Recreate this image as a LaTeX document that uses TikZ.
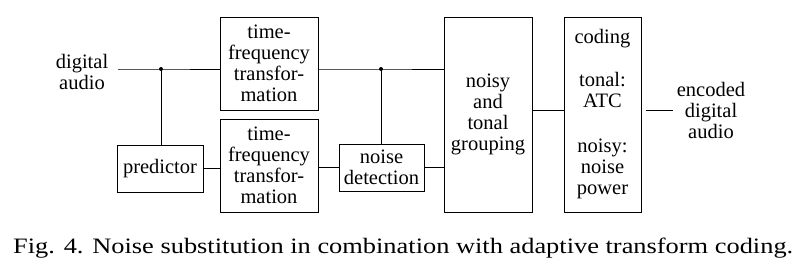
\documentclass[tikz,border=0pt]{standalone}
\usepackage{fontspec}
\setmainfont{Liberation Serif}
\usepackage{graphicx}
\begin{document}
\begin{tikzpicture}[x=1pt,y=-1pt,
  box/.style={draw,line width=1pt,inner sep=0pt,align=center,font=\fontsize{20.5}{21}\selectfont},
  lbl/.style={inner sep=0pt,align=center,font=\fontsize{20.5}{21}\selectfont},
  wire/.style={line width=0.9pt},
  jdot/.style={circle,fill,inner sep=0pt,minimum size=4pt}]
\useasboundingbox (0,0) rectangle (799,274);
% nodes
\node[lbl] (din) at (82,72) {digital\\audio};
\node[box,minimum width=98,minimum height=93] (tf1) at (269,63.5) {time-\\frequency\\transfor-\\mation};
\node[box,minimum width=98,minimum height=93] (tf2) at (269,165.5) {time-\\frequency\\transfor-\\mation};
\node[box,minimum width=86,minimum height=47] (pred) at (160,168.5) {predictor};
\node[box,minimum width=85,minimum height=47] (nd) at (381.5,167.5) {noise\\detection};
\node[box,minimum width=88,minimum height=195] (grp) at (488,114.5) {noisy\\and\\tonal\\grouping};
\node[box,minimum width=77,minimum height=195] (cod) at (602.5,114.5) {coding\\[22pt]tonal:\\ATC\\[24pt]noisy:\\noise\\power};
\node[lbl] (out) at (711,110) {encoded\\digital\\audio};
\node[anchor=base west,inner sep=0pt] (cap) at (13,253) {\resizebox{780pt}{\height}{\fontsize{22}{26}\selectfont Fig. 4. Noise substitution in combination with adaptive transform coding.}};
% junctions
\coordinate (j1) at (161,69);
\coordinate (j2) at (381,69);
\node[jdot] (d1) at (j1) {};
\node[jdot] (d2) at (j2) {};
% connectors
\draw[wire] ([xshift=10pt]din.east |- j1) -- (j1) -- (j1 -| tf1.west);
\draw[wire] (j1) -- (j1 |- pred.north);
\draw[wire] (pred.east) -- (pred.east -| tf2.west);
\draw[wire] (tf2.east |- nd.west) -- (nd.west);
\draw[wire] (tf1.east |- j2) -- (j2) -- (j2 -| grp.west);
\draw[wire] (j2) -- (j2 |- nd.north);
\draw[wire] (nd.east) -- (nd.east -| grp.west);
\draw[wire] ([yshift=4.5pt]grp.east) -- ([yshift=4.5pt]grp.east -| cod.west);
\draw[wire] ([xshift=4pt,yshift=4.5pt]cod.east) -- ([xshift=-4pt]out.west);
\end{tikzpicture}
\end{document}
